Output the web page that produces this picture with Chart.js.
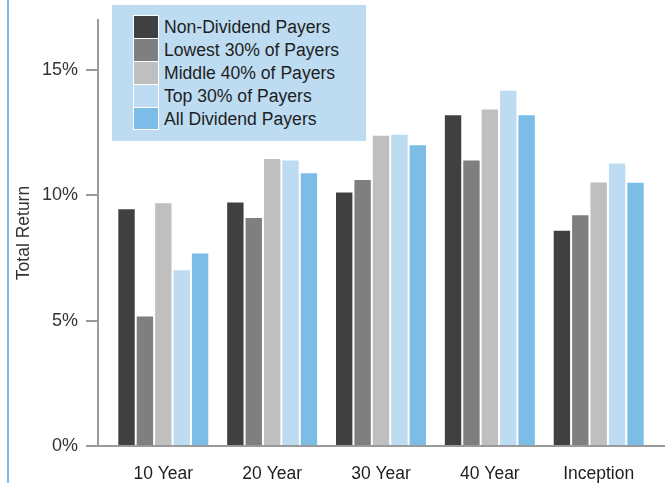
<!DOCTYPE html>
<html>
<head>
<meta charset="utf-8">
<script src="https://cdn.jsdelivr.net/npm/chart.js@4.4.1/dist/chart.umd.min.js"></script>
<style>
  html, body { margin: 0; padding: 0; background: #ffffff; }
  #wrap { position: relative; width: 665px; height: 483px; overflow: hidden; }
  #accent { position: absolute; left: 7px; top: 0; width: 2px; height: 483px; background: #7cbde8; }
  #legend {
    position: absolute; left: 112px; top: 5px; width: 254px; height: 136px;
    background: #bddbf1; font-family: "Liberation Sans", Arial, sans-serif;
    font-size: 17.6px; color: #1e1e1e;
  }
  #legend .swatches {
    position: absolute; left: 21px; top: 10px; background: #ffffff;
    padding: 1px; display: flex; flex-direction: column; gap: 1px;
  }
  #legend .swatches div { width: 24px; height: 21.9px; }
  #legend .labels { position: absolute; left: 52px; top: 11px; }
  #legend .labels div { height: 22.9px; line-height: 22.9px; white-space: nowrap; }
</style>
</head>
<body>
<div id="wrap">
  <canvas id="chart" width="665" height="483"></canvas>
  <div id="accent"></div>
  <div id="legend"><div class="swatches"></div><div class="labels"></div></div>
</div>
<script>
// Periods on the horizontal axis
const categories = ['10 Year', '20 Year', '30 Year', '40 Year', 'Inception'];

// Annualised total return (%) for each group of stocks
const nonDividendPayers = [9.49, 9.76, 10.16, 13.24, 8.63];
const lowest30Payers    = [5.21, 9.14, 10.65, 11.43, 9.25];
const middle40Payers    = [9.73, 11.49, 12.42, 13.47, 10.56];
const top30Payers       = [7.05, 11.43, 12.46, 14.22, 11.31];
const allDividendPayers = [7.72, 10.92, 12.04, 13.24, 10.55];

const seriesNames  = ['Non-Dividend Payers', 'Lowest 30% of Payers', 'Middle 40% of Payers', 'Top 30% of Payers', 'All Dividend Payers'];
const seriesValues = [nonDividendPayers, lowest30Payers, middle40Payers, top30Payers, allDividendPayers];
const seriesColors = ['#404040', '#7f7f7f', '#bfbfbf', '#bddbf1', '#7cbde8'];

// Y axis tick values (percent)
const yTicks = [0, 5, 10, 15];

const FONT = '"Liberation Sans", Arial, sans-serif';

const datasets = seriesValues.map((vals, s) => ({
  label: seriesNames[s],
  data: vals.map((v, i) => ({ x: i, y: v })),
  backgroundColor: seriesColors[s],
  borderColor: '#ffffff',
  borderWidth: { top: 1, left: 1, right: 1, bottom: 0 },
  borderSkipped: 'start',
  categoryPercentage: 0.845,
  barPercentage: 1.0
}));

const chart = new Chart(document.getElementById('chart'), {
  type: 'bar',
  data: { datasets },
  options: {
    responsive: false,
    animation: false,
    layout: { padding: { top: 20, right: 1, left: 0, bottom: 0 } },
    plugins: { legend: { display: false }, tooltip: { enabled: false } },
    scales: {
      x: {
        type: 'linear',
        min: -0.6,
        max: 4.6,
        offset: false,
        grid: { display: false },
        border: { display: true, color: '#9a9a9a', width: 2 },
        afterBuildTicks: (scale) => { scale.ticks = categories.map((_, i) => ({ value: i })); },
        afterFit: (scale) => { scale.height = 37; },
        ticks: {
          autoSkip: false,
          maxRotation: 0,
          padding: 10,
          color: '#1e1e1e',
          font: { family: FONT, size: 17.5 },
          callback: (v) => categories[v]
        }
      },
      y: {
        min: 0,
        max: 17,
        grid: { drawOnChartArea: false, drawTicks: true, tickLength: 12, color: '#9a9a9a', lineWidth: 2 },
        border: { display: true, color: '#9a9a9a', width: 2 },
        afterBuildTicks: (scale) => { scale.ticks = yTicks.map(v => ({ value: v })); },
        afterFit: (scale) => { scale.width = 98; },
        ticks: {
          padding: 8,
          color: '#333333',
          font: { family: FONT, size: 18 },
          callback: (v) => v + '%'
        },
        title: {
          display: true,
          text: 'Total Return',
          color: '#333333',
          font: { family: FONT, size: 17.5 },
          padding: { top: 14, bottom: 0 }
        }
      }
    }
  }
});

// Legend panel built from the chart's own datasets
const sw = document.querySelector('#legend .swatches');
const lb = document.querySelector('#legend .labels');
chart.data.datasets.forEach(ds => {
  const box = document.createElement('div');
  box.style.background = ds.backgroundColor;
  sw.appendChild(box);
  const t = document.createElement('div');
  t.textContent = ds.label;
  lb.appendChild(t);
});
</script>
</body>
</html>
